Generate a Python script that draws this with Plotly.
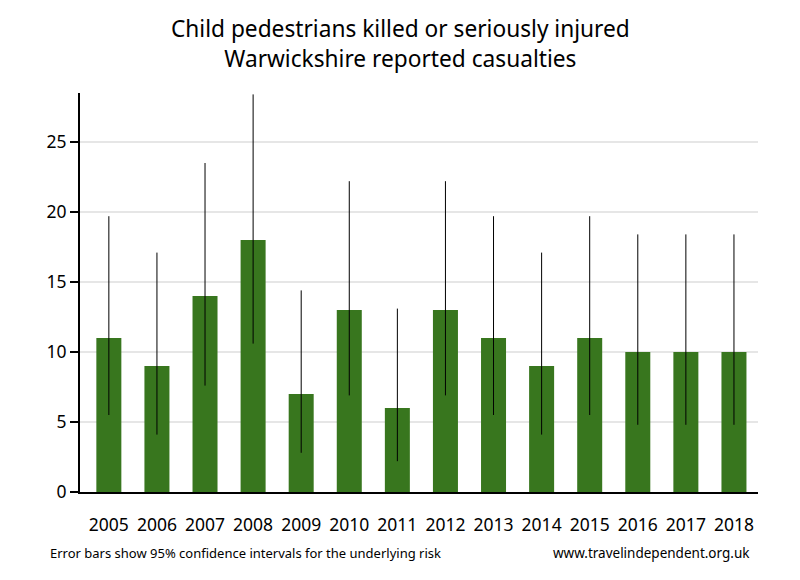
import plotly.graph_objects as go

years = ["2005", "2006", "2007", "2008", "2009", "2010", "2011",
         "2012", "2013", "2014", "2015", "2016", "2017", "2018"]
casualties = [11, 9, 14, 18, 7, 13, 6, 13, 11, 9, 11, 10, 10, 10]
ci_upper = [19.7, 17.1, 23.5, 28.4, 14.4, 22.2, 13.1,
            22.2, 19.7, 17.1, 19.7, 18.4, 18.4, 18.4]
ci_lower = [5.5, 4.1, 7.6, 10.6, 2.8, 6.9, 2.2,
            6.9, 5.5, 4.1, 5.5, 4.8, 4.8, 4.8]

FONT = "Noto Sans"

err_plus = [u - v for u, v in zip(ci_upper, casualties)]
err_minus = [v - l for v, l in zip(casualties, ci_lower)]

fig = go.Figure()
fig.add_trace(go.Bar(
    x=list(range(len(years))), y=casualties,
    marker=dict(color="#38761e", line=dict(width=0)),
    width=0.52,
    error_y=dict(type="data", symmetric=False, array=err_plus,
                 arrayminus=err_minus, color="black", thickness=1, width=0),
    showlegend=False,
))

# page has an 8px body margin, so the figure is sized/offset to compensate
fig.update_layout(
    width=792, height=572,
    margin=dict(l=72, r=42, t=85, b=88),
    plot_bgcolor="white", paper_bgcolor="white",
    font=dict(family=FONT, color="black", size=17),
    xaxis=dict(
        tickmode="array", tickvals=list(range(len(years))), ticktext=years,
        range=[-0.6, 13.5], showgrid=False, ticks="",
        showline=True, linecolor="black", linewidth=2,
        ticklabelstandoff=16, tickfont=dict(size=17.5),
    ),
    yaxis=dict(
        range=[0, 28.5], tickvals=[0, 5, 10, 15, 20, 25],
        showgrid=True, gridcolor="#e6e6e6", gridwidth=2,
        showline=True, linecolor="black", linewidth=2,
        ticks="outside", ticklen=8, tickwidth=2, tickcolor="black",
        zeroline=False, tickfont=dict(size=17.5),
    ),
    annotations=[
        dict(text="Child pedestrians killed or seriously injured<br>Warwickshire reported casualties",
             xref="paper", yref="paper", x=0.472, y=1.123, xanchor="center",
             yanchor="middle", showarrow=False, align="center",
             font=dict(size=22.7, family=FONT)),
        dict(text="Error bars show 95% confidence intervals for the underlying risk",
             xref="paper", yref="paper", x=-0.047, y=-0.153, xanchor="left",
             yanchor="middle", showarrow=False, font=dict(size=13, family=FONT)),
        dict(text="www.travelindependent.org.uk",
             xref="paper", yref="paper", x=0.991, y=-0.153, xanchor="right",
             yanchor="middle", showarrow=False, font=dict(size=13.5, family=FONT)),
    ],
)

fig.write_html("out.html")
